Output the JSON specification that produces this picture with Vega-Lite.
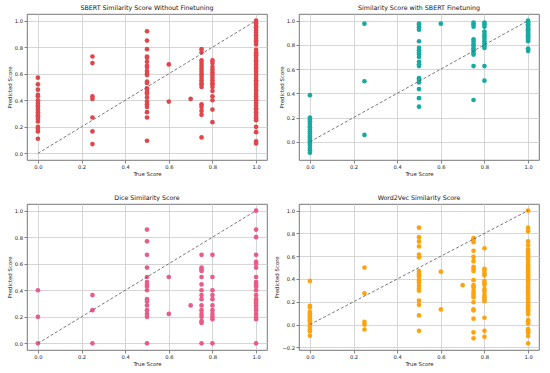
{
  "$schema": "https://vega.github.io/schema/vega-lite/v6.json",
  "padding": {"left": 6, "top": 4, "right": 5, "bottom": 5},
  "background": "white",
  "columns": 2,
  "bounds": "flush",
  "spacing": {"column": 32, "row": 44},
  "datasets": {
    "diag": [{"t": 0, "p": 0}, {"t": 1, "p": 1}],
    "p1": [
      {"t":0,"p":0.57},{"t":0,"p":0.52},{"t":0,"p":0.48},{"t":0,"p":0.44},{"t":0,"p":0.43},{"t":0,"p":0.40},{"t":0,"p":0.38},{"t":0,"p":0.36},{"t":0,"p":0.35},{"t":0,"p":0.33},{"t":0,"p":0.31},{"t":0,"p":0.29},{"t":0,"p":0.28},{"t":0,"p":0.26},{"t":0,"p":0.24},{"t":0,"p":0.20},{"t":0,"p":0.185},{"t":0,"p":0.165},{"t":0,"p":0.11},
      {"t":0.25,"p":0.73},{"t":0.25,"p":0.68},{"t":0.25,"p":0.43},{"t":0.25,"p":0.41},{"t":0.25,"p":0.27},{"t":0.25,"p":0.165},{"t":0.25,"p":0.07},
      {"t":0.5,"p":0.92},{"t":0.5,"p":0.85},{"t":0.5,"p":0.785},{"t":0.5,"p":0.73},{"t":0.5,"p":0.72},{"t":0.5,"p":0.69},{"t":0.5,"p":0.66},{"t":0.5,"p":0.65},{"t":0.5,"p":0.62},{"t":0.5,"p":0.60},{"t":0.5,"p":0.59},{"t":0.5,"p":0.54},{"t":0.5,"p":0.53},{"t":0.5,"p":0.49},{"t":0.5,"p":0.48},{"t":0.5,"p":0.46},{"t":0.5,"p":0.45},{"t":0.5,"p":0.42},{"t":0.5,"p":0.39},{"t":0.5,"p":0.37},{"t":0.5,"p":0.35},{"t":0.5,"p":0.31},{"t":0.5,"p":0.27},{"t":0.5,"p":0.095},
      {"t":0.6,"p":0.67},{"t":0.6,"p":0.39},
      {"t":0.7,"p":0.41},
      {"t":0.75,"p":0.785},{"t":0.75,"p":0.76},{"t":0.75,"p":0.70},{"t":0.75,"p":0.68},{"t":0.75,"p":0.66},{"t":0.75,"p":0.64},{"t":0.75,"p":0.62},{"t":0.75,"p":0.60},{"t":0.75,"p":0.59},{"t":0.75,"p":0.57},{"t":0.75,"p":0.55},{"t":0.75,"p":0.53},{"t":0.75,"p":0.52},{"t":0.75,"p":0.50},{"t":0.75,"p":0.37},{"t":0.75,"p":0.35},{"t":0.75,"p":0.32},{"t":0.75,"p":0.29},{"t":0.75,"p":0.12},
      {"t":0.8,"p":0.70},{"t":0.8,"p":0.68},{"t":0.8,"p":0.65},{"t":0.8,"p":0.63},{"t":0.8,"p":0.61},{"t":0.8,"p":0.59},{"t":0.8,"p":0.57},{"t":0.8,"p":0.55},{"t":0.8,"p":0.53},{"t":0.8,"p":0.52},{"t":0.8,"p":0.50},{"t":0.8,"p":0.47},{"t":0.8,"p":0.43},{"t":0.8,"p":0.40},{"t":0.8,"p":0.33},{"t":0.8,"p":0.235},
      {"t":1,"p":1.0},{"t":1,"p":0.98},{"t":1,"p":0.96},{"t":1,"p":0.95},{"t":1,"p":0.93},{"t":1,"p":0.91},{"t":1,"p":0.89},{"t":1,"p":0.87},{"t":1,"p":0.85},{"t":1,"p":0.84},{"t":1,"p":0.82},{"t":1,"p":0.78},{"t":1,"p":0.76},{"t":1,"p":0.75},{"t":1,"p":0.74},{"t":1,"p":0.72},{"t":1,"p":0.70},{"t":1,"p":0.69},{"t":1,"p":0.67},{"t":1,"p":0.65},{"t":1,"p":0.64},{"t":1,"p":0.62},{"t":1,"p":0.60},{"t":1,"p":0.59},{"t":1,"p":0.57},{"t":1,"p":0.55},{"t":1,"p":0.54},{"t":1,"p":0.52},{"t":1,"p":0.50},{"t":1,"p":0.48},{"t":1,"p":0.47},{"t":1,"p":0.45},{"t":1,"p":0.43},{"t":1,"p":0.41},{"t":1,"p":0.40},{"t":1,"p":0.38},{"t":1,"p":0.36},{"t":1,"p":0.34},{"t":1,"p":0.33},{"t":1,"p":0.31},{"t":1,"p":0.29},{"t":1,"p":0.27},{"t":1,"p":0.26},{"t":1,"p":0.25},{"t":1,"p":0.20},{"t":1,"p":0.16},{"t":1,"p":0.09},{"t":1,"p":0.075}
    ],
    "p2": [
      {"t":0,"p":0.385},{"t":0,"p":0.20},{"t":0,"p":0.185},{"t":0,"p":0.17},{"t":0,"p":0.15},{"t":0,"p":0.13},{"t":0,"p":0.12},{"t":0,"p":0.10},{"t":0,"p":0.085},{"t":0,"p":0.07},{"t":0,"p":0.05},{"t":0,"p":0.04},{"t":0,"p":0.025},{"t":0,"p":0.01},{"t":0,"p":0.0},{"t":0,"p":-0.015},{"t":0,"p":-0.03},{"t":0,"p":-0.05},{"t":0,"p":-0.07},{"t":0,"p":-0.09},
      {"t":0.25,"p":0.975},{"t":0.25,"p":0.50},{"t":0.25,"p":0.057},
      {"t":0.5,"p":0.975},{"t":0.5,"p":0.965},{"t":0.5,"p":0.945},{"t":0.5,"p":0.925},{"t":0.5,"p":0.83},{"t":0.5,"p":0.775},{"t":0.5,"p":0.755},{"t":0.5,"p":0.735},{"t":0.5,"p":0.72},{"t":0.5,"p":0.70},{"t":0.5,"p":0.66},{"t":0.5,"p":0.64},{"t":0.5,"p":0.625},{"t":0.5,"p":0.525},{"t":0.5,"p":0.51},{"t":0.5,"p":0.49},{"t":0.5,"p":0.435},{"t":0.5,"p":0.36},{"t":0.5,"p":0.29},
      {"t":0.6,"p":0.975},
      {"t":0.75,"p":0.985},{"t":0.75,"p":0.97},{"t":0.75,"p":0.95},{"t":0.75,"p":0.845},{"t":0.75,"p":0.825},{"t":0.75,"p":0.805},{"t":0.75,"p":0.79},{"t":0.75,"p":0.77},{"t":0.75,"p":0.755},{"t":0.75,"p":0.735},{"t":0.75,"p":0.72},{"t":0.75,"p":0.625},{"t":0.75,"p":0.345},
      {"t":0.8,"p":0.985},{"t":0.8,"p":0.97},{"t":0.8,"p":0.95},{"t":0.8,"p":0.91},{"t":0.8,"p":0.89},{"t":0.8,"p":0.87},{"t":0.8,"p":0.85},{"t":0.8,"p":0.83},{"t":0.8,"p":0.81},{"t":0.8,"p":0.79},{"t":0.8,"p":0.775},{"t":0.8,"p":0.625},{"t":0.8,"p":0.505},
      {"t":1,"p":1.0},{"t":1,"p":0.99},{"t":1,"p":0.98},{"t":1,"p":0.97},{"t":1,"p":0.96},{"t":1,"p":0.95},{"t":1,"p":0.94},{"t":1,"p":0.93},{"t":1,"p":0.92},{"t":1,"p":0.91},{"t":1,"p":0.90},{"t":1,"p":0.89},{"t":1,"p":0.88},{"t":1,"p":0.87},{"t":1,"p":0.86},{"t":1,"p":0.85},{"t":1,"p":0.84},{"t":1,"p":0.83},{"t":1,"p":0.77},{"t":1,"p":0.76},{"t":1,"p":0.75}
    ],
    "p3": [
      {"t":0,"p":0.4},{"t":0,"p":0.2},{"t":0,"p":0},
      {"t":0.25,"p":0.364},{"t":0.25,"p":0.25},{"t":0.25,"p":0},
      {"t":0.5,"p":0.857},{"t":0.5,"p":0.769},{"t":0.5,"p":0.667},{"t":0.5,"p":0.571},{"t":0.5,"p":0.5},{"t":0.5,"p":0.462},{"t":0.5,"p":0.444},{"t":0.5,"p":0.429},{"t":0.5,"p":0.4},{"t":0.5,"p":0.333},{"t":0.5,"p":0.316},{"t":0.5,"p":0.286},{"t":0.5,"p":0.25},{"t":0.5,"p":0.222},{"t":0.5,"p":0.2},{"t":0.5,"p":0},
      {"t":0.6,"p":0.5},{"t":0.6,"p":0.222},
      {"t":0.7,"p":0.286},
      {"t":0.75,"p":0.667},{"t":0.75,"p":0.571},{"t":0.75,"p":0.556},{"t":0.75,"p":0.545},{"t":0.75,"p":0.5},{"t":0.75,"p":0.444},{"t":0.75,"p":0.4},{"t":0.75,"p":0.364},{"t":0.75,"p":0.333},{"t":0.75,"p":0.286},{"t":0.75,"p":0.25},{"t":0.75,"p":0.222},{"t":0.75,"p":0.2},{"t":0.75,"p":0.167},{"t":0.75,"p":0.154},{"t":0.75,"p":0},
      {"t":0.8,"p":0.667},{"t":0.8,"p":0.5},{"t":0.8,"p":0.4},{"t":0.8,"p":0.364},{"t":0.8,"p":0.333},{"t":0.8,"p":0.286},{"t":0.8,"p":0.25},{"t":0.8,"p":0.222},{"t":0.8,"p":0.2},{"t":0.8,"p":0.182},{"t":0.8,"p":0},
      {"t":1,"p":1.0},{"t":1,"p":0.857},{"t":1,"p":0.8},{"t":1,"p":0.667},{"t":1,"p":0.615},{"t":1,"p":0.6},{"t":1,"p":0.571},{"t":1,"p":0.5},{"t":1,"p":0.462},{"t":1,"p":0.444},{"t":1,"p":0.429},{"t":1,"p":0.4},{"t":1,"p":0.364},{"t":1,"p":0.333},{"t":1,"p":0.316},{"t":1,"p":0.3},{"t":1,"p":0.286},{"t":1,"p":0.267},{"t":1,"p":0.25},{"t":1,"p":0.222},{"t":1,"p":0.2},{"t":1,"p":0.182},{"t":1,"p":0}
    ],
    "p4": [
      {"t":0,"p":0.383},{"t":0,"p":0.165},{"t":0,"p":0.15},{"t":0,"p":0.11},{"t":0,"p":0.095},{"t":0,"p":0.08},{"t":0,"p":0.066},{"t":0,"p":0.052},{"t":0,"p":0.037},{"t":0,"p":0.023},{"t":0,"p":0.0},{"t":0,"p":-0.02},{"t":0,"p":-0.04},{"t":0,"p":-0.058},{"t":0,"p":-0.098},
      {"t":0.25,"p":0.50},{"t":0.25,"p":0.274},{"t":0.25,"p":0.023},{"t":0.25,"p":0.0},{"t":0.25,"p":-0.043},
      {"t":0.5,"p":0.85},{"t":0.5,"p":0.767},{"t":0.5,"p":0.73},{"t":0.5,"p":0.686},{"t":0.5,"p":0.614},{"t":0.5,"p":0.59},{"t":0.5,"p":0.47},{"t":0.5,"p":0.45},{"t":0.5,"p":0.432},{"t":0.5,"p":0.42},{"t":0.5,"p":0.39},{"t":0.5,"p":0.37},{"t":0.5,"p":0.34},{"t":0.5,"p":0.317},{"t":0.5,"p":0.297},{"t":0.5,"p":0.21},{"t":0.5,"p":0.173},{"t":0.5,"p":0.08},{"t":0.5,"p":-0.055},
      {"t":0.6,"p":0.464},{"t":0.6,"p":0.133},
      {"t":0.7,"p":0.346},
      {"t":0.75,"p":0.758},{"t":0.75,"p":0.744},{"t":0.75,"p":0.723},{"t":0.75,"p":0.648},{"t":0.75,"p":0.594},{"t":0.75,"p":0.556},{"t":0.75,"p":0.507},{"t":0.75,"p":0.49},{"t":0.75,"p":0.47},{"t":0.75,"p":0.39},{"t":0.75,"p":0.346},{"t":0.75,"p":0.326},{"t":0.75,"p":0.297},{"t":0.75,"p":0.277},{"t":0.75,"p":0.26},{"t":0.75,"p":0.24},{"t":0.75,"p":0.196},{"t":0.75,"p":0.133},{"t":0.75,"p":0.124},{"t":0.75,"p":0.052},{"t":0.75,"p":-0.069},{"t":0.75,"p":-0.121},
      {"t":0.8,"p":0.67},{"t":0.8,"p":0.49},{"t":0.8,"p":0.475},{"t":0.8,"p":0.45},{"t":0.8,"p":0.432},{"t":0.8,"p":0.383},{"t":0.8,"p":0.363},{"t":0.8,"p":0.349},{"t":0.8,"p":0.311},{"t":0.8,"p":0.291},{"t":0.8,"p":0.26},{"t":0.8,"p":0.24},{"t":0.8,"p":0.225},{"t":0.8,"p":0.205},{"t":0.8,"p":0.06},{"t":0.8,"p":-0.055},{"t":0.8,"p":-0.107},
      {"t":1,"p":1.0},{"t":1,"p":0.85},{"t":1,"p":0.82},{"t":1,"p":0.73},{"t":1,"p":0.695},{"t":1,"p":0.66},{"t":1,"p":0.64},{"t":1,"p":0.625},{"t":1,"p":0.61},{"t":1,"p":0.59},{"t":1,"p":0.575},{"t":1,"p":0.56},{"t":1,"p":0.54},{"t":1,"p":0.525},{"t":1,"p":0.51},{"t":1,"p":0.49},{"t":1,"p":0.475},{"t":1,"p":0.46},{"t":1,"p":0.44},{"t":1,"p":0.425},{"t":1,"p":0.41},{"t":1,"p":0.39},{"t":1,"p":0.375},{"t":1,"p":0.36},{"t":1,"p":0.34},{"t":1,"p":0.325},{"t":1,"p":0.31},{"t":1,"p":0.29},{"t":1,"p":0.275},{"t":1,"p":0.26},{"t":1,"p":0.24},{"t":1,"p":0.225},{"t":1,"p":0.21},{"t":1,"p":0.19},{"t":1,"p":0.175},{"t":1,"p":0.16},{"t":1,"p":0.14},{"t":1,"p":0.125},{"t":1,"p":0.11},{"t":1,"p":0.09},{"t":1,"p":0.04},{"t":1,"p":0.03},{"t":1,"p":0.01},{"t":1,"p":-0.04},{"t":1,"p":-0.05},{"t":1,"p":-0.07},{"t":1,"p":-0.1},{"t":1,"p":-0.164}
    ]
  },
  "concat": [
    {
      "width": 240, "height": 146,
      "title": "SBERT Similarity Score Without Finetuning",
      "layer": [
        {"data": {"name": "p1"}, "mark": {"type": "circle", "size": 22, "opacity": 1, "color": "#e0474c"},
         "encoding": {
           "x": {"field": "t", "type": "quantitative", "scale": {"domain": [-0.05, 1.05], "nice": false, "zero": false}, "axis": {"tickCount": 6, "format": ".1f", "title": "True Score"}},
           "y": {"field": "p", "type": "quantitative", "scale": {"domain": [-0.05, 1.05], "nice": false, "zero": false}, "axis": {"tickCount": 6, "format": ".1f", "title": "Predicted Score"}}}},
        {"data": {"name": "diag"}, "mark": {"type": "line", "color": "#555555", "strokeWidth": 0.8, "strokeDash": [3, 2]},
         "encoding": {"x": {"field": "t", "type": "quantitative"}, "y": {"field": "p", "type": "quantitative"}}}
      ]
    },
    {
      "width": 240, "height": 146,
      "title": "Similarity Score with SBERT Finetuning",
      "layer": [
        {"data": {"name": "p2"}, "mark": {"type": "circle", "size": 22, "opacity": 1, "color": "#17aaa0"},
         "encoding": {
           "x": {"field": "t", "type": "quantitative", "scale": {"domain": [-0.05, 1.05], "nice": false, "zero": false}, "axis": {"tickCount": 6, "format": ".1f", "title": "True Score"}},
           "y": {"field": "p", "type": "quantitative", "scale": {"domain": [-0.15, 1.055], "nice": false, "zero": false}, "axis": {"tickCount": 6, "format": ".1f", "title": "Predicted Score"}}}},
        {"data": {"name": "diag"}, "mark": {"type": "line", "color": "#555555", "strokeWidth": 0.8, "strokeDash": [3, 2]},
         "encoding": {"x": {"field": "t", "type": "quantitative"}, "y": {"field": "p", "type": "quantitative"}}}
      ]
    },
    {
      "width": 240, "height": 146,
      "title": "Dice Similarity Score",
      "layer": [
        {"data": {"name": "p3"}, "mark": {"type": "circle", "size": 22, "opacity": 1, "color": "#e95c88"},
         "encoding": {
           "x": {"field": "t", "type": "quantitative", "scale": {"domain": [-0.05, 1.05], "nice": false, "zero": false}, "axis": {"tickCount": 6, "format": ".1f", "title": "True Score"}},
           "y": {"field": "p", "type": "quantitative", "scale": {"domain": [-0.05, 1.05], "nice": false, "zero": false}, "axis": {"tickCount": 6, "format": ".1f", "title": "Predicted Score"}}}},
        {"data": {"name": "diag"}, "mark": {"type": "line", "color": "#555555", "strokeWidth": 0.8, "strokeDash": [3, 2]},
         "encoding": {"x": {"field": "t", "type": "quantitative"}, "y": {"field": "p", "type": "quantitative"}}}
      ]
    },
    {
      "width": 240, "height": 146,
      "title": "Word2Vec Similarity Score",
      "layer": [
        {"data": {"name": "p4"}, "mark": {"type": "circle", "size": 22, "opacity": 1, "color": "#ffa30d"},
         "encoding": {
           "x": {"field": "t", "type": "quantitative", "scale": {"domain": [-0.05, 1.05], "nice": false, "zero": false}, "axis": {"tickCount": 6, "format": ".1f", "title": "True Score"}},
           "y": {"field": "p", "type": "quantitative", "scale": {"domain": [-0.223, 1.058], "nice": false, "zero": false}, "axis": {"tickCount": 7, "format": ".1f", "title": "Predicted Score"}}}},
        {"data": {"name": "diag"}, "mark": {"type": "line", "color": "#555555", "strokeWidth": 0.8, "strokeDash": [3, 2]},
         "encoding": {"x": {"field": "t", "type": "quantitative"}, "y": {"field": "p", "type": "quantitative"}}}
      ]
    }
  ],
  "resolve": {"scale": {"x": "independent", "y": "independent"}},
  "config": {
    "font": "DejaVu Sans",
    "view": {"stroke": "#555555", "strokeWidth": 0.8},
    "axis": {
      "labelFontSize": 5.2, "titleFontSize": 5.4, "titleFontWeight": "normal",
      "labelColor": "#222222", "titleColor": "#222222",
      "tickSize": 3, "tickColor": "#333333", "tickWidth": 0.6,
      "domain": false, "grid": true, "gridColor": "#cccccc", "gridWidth": 0.8,
      "labelPadding": 1.5, "titlePadding": 2,
      "labelOverlap": false, "labelFlush": false, "labelBound": false
    },
    "title": {"fontSize": 6.3, "fontWeight": "normal", "offset": 3, "color": "#111111"}
  }
}
